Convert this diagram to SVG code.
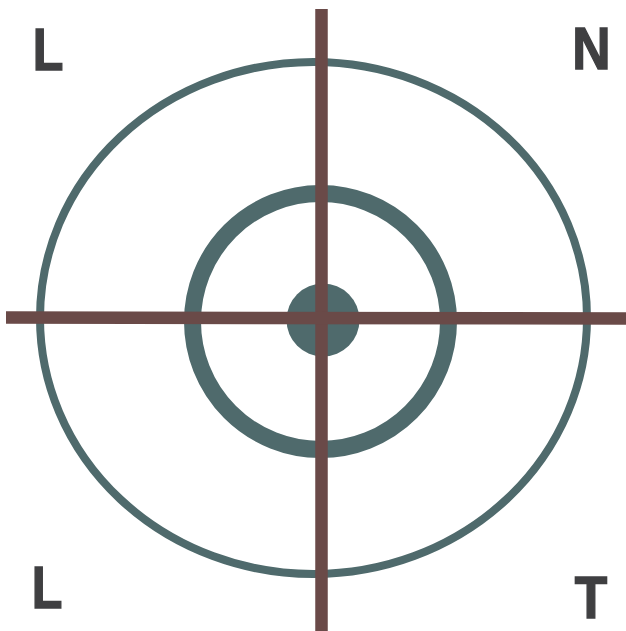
<svg xmlns="http://www.w3.org/2000/svg" width="626" height="631" viewBox="0 0 626 631">
<style>
.ring{fill:none;stroke:#4f6a6c}
.line{stroke:#6a4a48;stroke-width:12.5;fill:none}
.lbl{font-family:"Liberation Sans",Arial,sans-serif;font-weight:bold;font-size:59px;fill:#3f3f41;stroke:#3f3f41;stroke-width:1.5;text-anchor:middle}
</style>
<rect width="626" height="631" fill="#ffffff"/>
<g id="outer-ring"><ellipse class="ring" cx="313.5" cy="318" rx="273.5" ry="256" stroke-width="8"/></g>
<g id="middle-ring"><circle class="ring" cx="320.5" cy="321.5" r="128" stroke-width="17"/></g>
<g id="center-dot"><circle cx="323" cy="320" r="36.5" fill="#4f6a6c"/></g>
<g id="connectors">
<line class="line" x1="321.5" y1="9" x2="321.5" y2="631"/>
<line class="line" x1="6" y1="317.5" x2="626" y2="318.5"/>
</g>
<g id="label-tl"><text class="lbl" transform="translate(48,70) scale(0.85,1)">L</text></g>
<g id="label-tr"><text class="lbl" transform="translate(591.5,69) scale(0.9,1)">N</text></g>
<g id="label-bl"><text class="lbl" transform="translate(47,608) scale(0.85,1)">L</text></g>
<g id="label-br"><text class="lbl" transform="translate(591,618) scale(0.9,1)">T</text></g>
</svg>
